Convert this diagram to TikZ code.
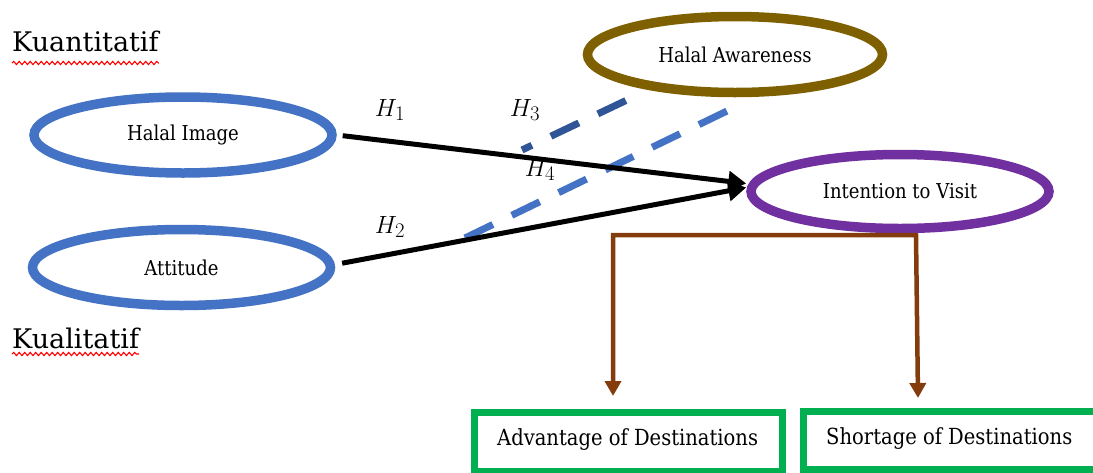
\documentclass[tikz,border=0pt]{standalone}
\usepackage{fontspec}
\setmainfont{DejaVu Serif}
\newfontfamily\nodefont[FakeStretch=0.88]{DejaVu Serif}
\usetikzlibrary{arrows.meta,shapes.geometric,decorations.pathmorphing}
\definecolor{cblue}{HTML}{4472C4}
\definecolor{cdblue}{HTML}{2F5597}
\definecolor{colive}{HTML}{7F6000}
\definecolor{cpurple}{HTML}{7030A0}
\definecolor{cbrown}{HTML}{843C0C}
\definecolor{cgreen}{HTML}{00B050}
\definecolor{cred}{HTML}{FF0000}
\tikzset{
  ell/.style={ellipse, draw, line width=9.5pt, inner sep=0pt, minimum width=298pt, minimum height=76pt, font=\nodefont\fontsize{20.5}{24}\selectfont},
  box/.style={draw=cgreen, line width=7pt},
  boxtext/.style={inner sep=0pt, anchor=base west, font=\nodefont\fontsize{22.2}{26}\selectfont},
  side/.style={inner sep=0pt, anchor=base west, font=\fontsize{27}{31}\selectfont},
  hlab/.style={inner sep=0pt, font=\fontsize{28}{32}\selectfont},
  blackarr/.style={line width=5pt, -{Triangle[length=18pt,width=20pt]}},
  dashline/.style={line width=7pt, dash pattern=on 31pt off 21pt},
  brownarr/.style={draw=cbrown, line width=4.5pt, line join=miter, {Triangle[length=15pt,width=16pt]}-{Triangle[length=15pt,width=16pt]}},
  squig/.style={draw=cred, line width=1.1pt, decorate, decoration={snake, amplitude=1.6pt, segment length=5.5pt}}
}
\begin{document}
\begin{tikzpicture}[x=1pt,y=-1pt]
\useasboundingbox (0,0) rectangle (1093,472);
\fill[white] (0,0) rectangle (1093,472);
\clip (0,0) rectangle (1093,472);

% side labels
\node[side] (kuan) at (12,51) {Kuantitatif};
\node[side] (kual) at (12,348) {Kualitatif};
\draw[squig] ([yshift=-12pt]kuan.base west) -- ([yshift=-12pt]kuan.base east);
\draw[squig] ([yshift=-6pt]kual.base west) -- ([yshift=-6pt]kual.base east);

% ellipses
\node[ell, draw=cblue] (hi) at (183,135) {Halal Image};
\node[ell, draw=cblue] (at) at (181.5,267.5) {Attitude};
\node[ell, draw=colive, minimum width=295pt] (ha) at (735,54.5) {Halal Awareness};
\node[ell, draw=cpurple, minimum height=74pt] (iv) at (900,191.5) {Intention to Visit};

% dashed moderator lines
\coordinate (h3a) at (522,150);
\coordinate (h3b) at (627,100);
\coordinate (h4a) at (465,238);
\coordinate (h4b) at (727,111);
\draw[dashline, draw=cdblue, dash phase=20pt] (h3a) -- (h3b);
\draw[dashline, draw=cblue] (h4a) -- (h4b);

% main arrows
\draw[blackarr, shorten <=6pt] (hi.east) -- ([yshift=8pt]iv.west);
\draw[blackarr, shorten <=7pt] ([yshift=3pt]at.east) -- ([yshift=4pt]iv.west);

% hypothesis labels
\node[hlab] (h1) at (390,110) {$H_1$};
\node[hlab] (h3) at (525,110) {$H_3$};
\node[hlab] (h4) at (540,170) {$H_4$};
\node[hlab] (h2) at (390,227) {$H_2$};

% bottom boxes
\draw[box] (474.5,412) rectangle (782,471);
\draw[box] (803.5,411) rectangle (1110,469);
\node[boxtext] (adv) at (497,445) {Advantage of Destinations};
\node[boxtext] (sho) at (826,444) {Shortage of Destinations};

% brown split connector
\coordinate (bl) at (613,235);
\coordinate (br) at (916,235);
\coordinate (tl) at (613,396);
\coordinate (tr) at (918,398);
\draw[brownarr] (tl) -- (bl) -- (br) -- (tr);
\end{tikzpicture}
\end{document}
